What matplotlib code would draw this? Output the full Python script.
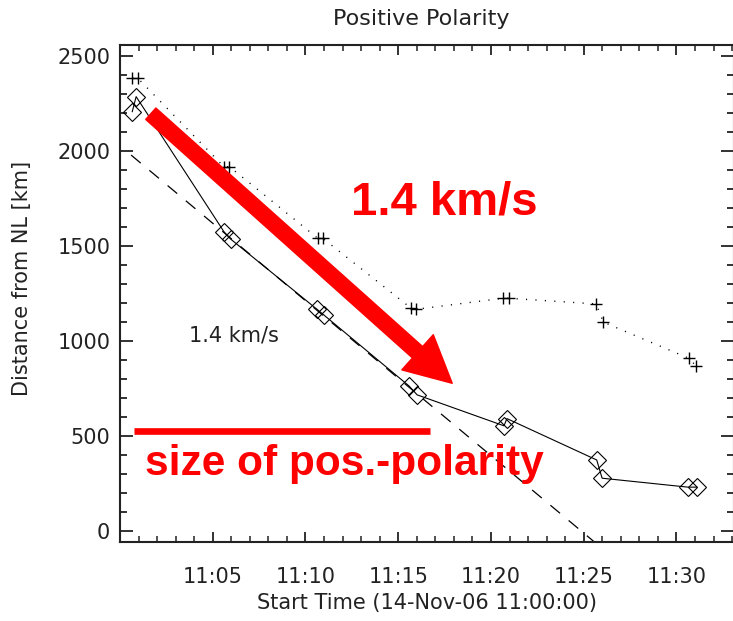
import numpy as np
import matplotlib
matplotlib.use('Agg')
import matplotlib.pyplot as plt
from matplotlib.ticker import MultipleLocator

# minutes after 11:00:00 and distance from the neutral line [km]
diam_t = [0.66, 0.87, 5.60, 5.96, 10.63, 11.00, 15.58, 16.02, 20.70, 20.86, 25.70, 25.99, 30.61, 31.09]
diam_d = [2207, 2286, 1575, 1536, 1165, 1135, 762, 715, 552, 590, 372, 276, 229, 229]

plus_t = [0.66, 0.96, 5.60, 5.90, 10.66, 10.93, 15.70, 15.97, 20.67, 20.96, 25.67, 26.06, 30.66, 31.06]
plus_d = [2383, 2383, 1917, 1917, 1540, 1540, 1171, 1166, 1224, 1224, 1194, 1098, 908, 867]

# linear fit: d = d0 - v * t
fit_d0 = 2027
speed_kms = 1.36
fit_t = [0.6, 31.1]

tick_min = [5, 10, 15, 20, 25, 30]
tick_labels = ['11:05', '11:10', '11:15', '11:20', '11:25', '11:30']

# red annotations (minutes, km)
arrow_from = (1.66, 2196)
arrow_to = (17.91, 776)
size_bar_t = [0.78, 16.72]
size_bar_d = 527

fig = plt.figure(figsize=(7.33, 6.21), dpi=100)
ax = fig.add_axes([120 / 733, 1 - 542 / 621, 614 / 733, 497 / 621])

ax.plot(diam_t, diam_d, color='black', lw=0.8, marker='D', ms=9.5,
        mfc='none', mec='black', mew=0.8)
ax.plot(plus_t, plus_d, color='black', lw=1.0, ls=(0, (0.8, 6)),
        marker='+', ms=8, mew=1.0)

ft = np.array(fit_t)
ax.plot(ft, fit_d0 - speed_kms * 60 * ft, color='black', lw=0.9, ls=(0, (10, 9)))

ax.set_xlim(0, 33.1)
ax.set_ylim(-60, 2558)

ax.set_xticks(tick_min)
ax.set_xticklabels(tick_labels)
ax.xaxis.set_minor_locator(MultipleLocator(1))
ax.set_yticks([0, 500, 1000, 1500, 2000, 2500])
ax.yaxis.set_minor_locator(MultipleLocator(100))

ax.tick_params(which='both', direction='in', top=True, right=True,
               width=1.3, colors='#222222', labelcolor='#222222', labelsize=15)
ax.tick_params(axis='x', which='major', length=7.2, pad=18)
ax.tick_params(axis='x', which='minor', length=4, width=1.1)
ax.tick_params(axis='y', which='major', length=9.4, pad=7)
ax.tick_params(axis='y', which='minor', length=4.8)
for s in ax.spines.values():
    s.set_linewidth(1.5)
    s.set_color('#222222')

ax.set_xlabel('Start Time (14-Nov-06 11:00:00)', fontsize=15, color='#222222')
ax.xaxis.set_label_coords(0.5, -0.103)
ax.set_ylabel('Distance from NL [km]', fontsize=15, color='#222222')
ax.yaxis.set_label_coords(-0.143, 0.53)
fig.text(421 / 733, 1 - 19 / 621, 'Positive Polarity', ha='center', va='center',
         fontsize=16, color='#222222')

label = f'{speed_kms:.1f} km/s'
ax.text(3.71, 995, label, fontsize=15, color='#222222', va='baseline')

# red overlays
ax.annotate('', xy=arrow_to, xytext=arrow_from,
            arrowprops=dict(arrowstyle='simple,head_length=33.5,head_width=34,tail_width=11',
                            color='#ff0000', mutation_scale=1, shrinkA=0, shrinkB=0))
ax.plot(size_bar_t, [size_bar_d, size_bar_d], color='#ff0000', lw=4.8,
        solid_capstyle='butt')
ax.text(12.46, 1663, label, fontsize=34, fontweight='bold', color='#ff0000',
        family='Liberation Sans', va='baseline')
ax.text(1.37, 293, 'size of pos.-polarity', fontsize=30.5, fontweight='bold',
        color='#ff0000', family='Liberation Sans', va='baseline')

fig.savefig('out.png', dpi=100)
